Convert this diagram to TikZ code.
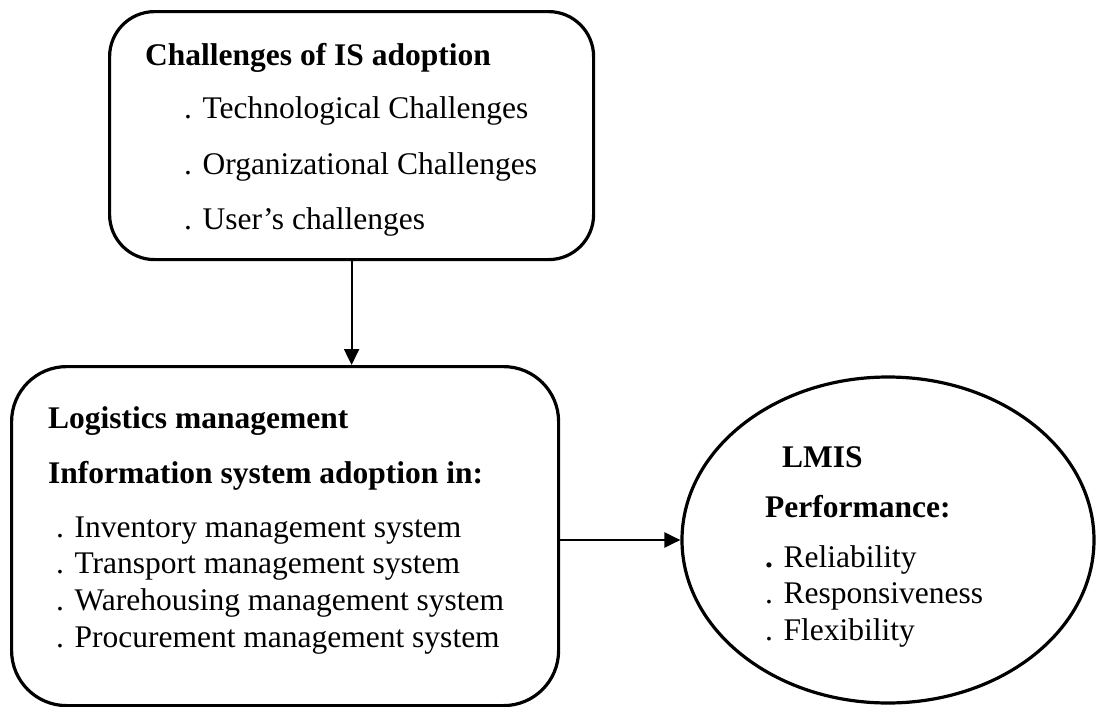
\documentclass[tikz,border=0pt]{standalone}
\usepackage{fontspec}
\setmainfont{Liberation Serif}
\usetikzlibrary{shapes.geometric,arrows.meta}
\begin{document}
\begin{tikzpicture}[x=1pt,y=1pt,
  frame/.style={draw, line width=3.2pt, rounded corners=45pt, inner sep=0pt, anchor=north west},
  oval/.style={draw, ellipse, line width=3.2pt, inner sep=0pt},
  txt/.style={anchor=base west, inner sep=0pt, font=\fontsize{31.5}{36}\selectfont},
  btxt/.style={txt, font=\fontsize{31.5}{36}\selectfont\bfseries},
  link/.style={line width=2.2pt, -{Triangle[length=16pt,width=15pt]}}]
\useasboundingbox (0,0) rectangle (1096,-707);
% boxes
\node[frame, minimum width=484pt, minimum height=248pt] (top) at (108,-10) {};
\node[frame, minimum width=547pt, minimum height=339pt, rounded corners=55pt] (log) at (10,-365) {};
\node[oval, minimum width=412pt, minimum height=326pt] (lmis) at (888,-540) {};
% top texts
\node[btxt] (t0) at (145,-65) {Challenges of IS adoption};
\node[txt] (t1) at (184,-118) {. Technological Challenges};
\node[txt] (t2) at (184,-174) {. Organizational Challenges};
\node[txt] (t3) at (184,-229) {. User’s challenges};
% bottom-left texts
\node[btxt] (l0) at (48,-428) {Logistics management};
\node[btxt] (l1) at (48,-483) {Information system adoption in:};
\node[txt] (l2) at (56,-537) {. Inventory management system};
\node[txt] (l3) at (56,-573) {. Transport management system};
\node[txt] (l4) at (56,-610) {. Warehousing management system};
\node[txt] (l5) at (56,-647) {. Procurement management system};
% ellipse texts
\node[btxt] (e0) at (782,-467) {LMIS};
\node[btxt] (e1) at (765,-517) {Performance:};
\node[txt] (e2) at (765,-567) {\textbf{.} Reliability};
\node[txt] (e3) at (765,-603) {. Responsiveness};
\node[txt] (e4) at (765,-640) {. Flexibility};
% connectors
\coordinate (a1) at (top.south);
\draw[link] (a1) -- (a1 |- log.north);
\draw[link] (log.east |- lmis.west) -- (lmis.west);
\end{tikzpicture}
\end{document}
